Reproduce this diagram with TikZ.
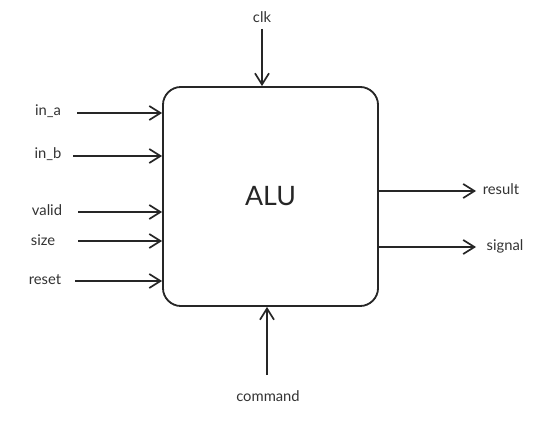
\documentclass[tikz,border=0pt]{standalone}
\usepackage{fontspec}
\setmainfont{Lato}
\usetikzlibrary{arrows.meta}

\tikzset{
  sig/.style={draw=black!85, line width=1.3pt, -{Straight Barb[length=8pt,width=10pt,line width=1.2pt]}},
  lbl/.style={inner sep=1pt, text=black!80, font=\fontsize{10.5}{12}\selectfont},
}

\begin{document}
\begin{tikzpicture}[x=0.025cm, y=-0.025cm]
\useasboundingbox (0,0) rectangle (560,426);

\node[draw=black!85, line width=1.3pt, rounded corners=0.45cm, minimum width=5.375cm, minimum height=5.475cm, font=\fontsize{19}{22}\selectfont, text=black!85] (alu) at (270.5,196.5) {ALU};

% inputs on the left
\node[lbl] (ina) at (48,111) {in\_a};
\node[lbl] (inb) at (48,154) {in\_b};
\node[lbl] (valid) at (47,210) {valid};
\node[lbl] (size) at (43,240) {size};
\node[lbl] (reset) at (45,280) {reset};

\coordinate (ina0) at (77,113);
\coordinate (inb0) at (73,156);
\coordinate (valid0) at (78,212);
\coordinate (size0) at (78,241);
\coordinate (reset0) at (75,281);

\draw[sig] (ina0) -- (ina0 -| alu.west);
\draw[sig] (inb0) -- (inb0 -| alu.west);
\draw[sig] (valid0) -- (valid0 -| alu.west);
\draw[sig] (size0) -- (size0 -| alu.west);
\draw[sig] (reset0) -- (reset0 -| alu.west);

% outputs on the right
\node[lbl] (result) at (501,189) {result};
\node[lbl] (signal) at (505,246) {signal};

\coordinate (result0) at (476,191);
\coordinate (signal0) at (476,247);

\draw[sig] (result0 -| alu.east) -- (result0);
\draw[sig] (signal0 -| alu.east) -- (signal0);

% top and bottom
\node[lbl] (clk) at (262,17) {clk};
\coordinate (clk0) at (262,29);
\draw[sig] (clk0) -- (clk0 |- alu.north);

\node[lbl] (command) at (268,396) {command};
\coordinate (command0) at (267,375);
\draw[sig] (command0) -- (command0 |- alu.south);
\end{tikzpicture}
\end{document}
